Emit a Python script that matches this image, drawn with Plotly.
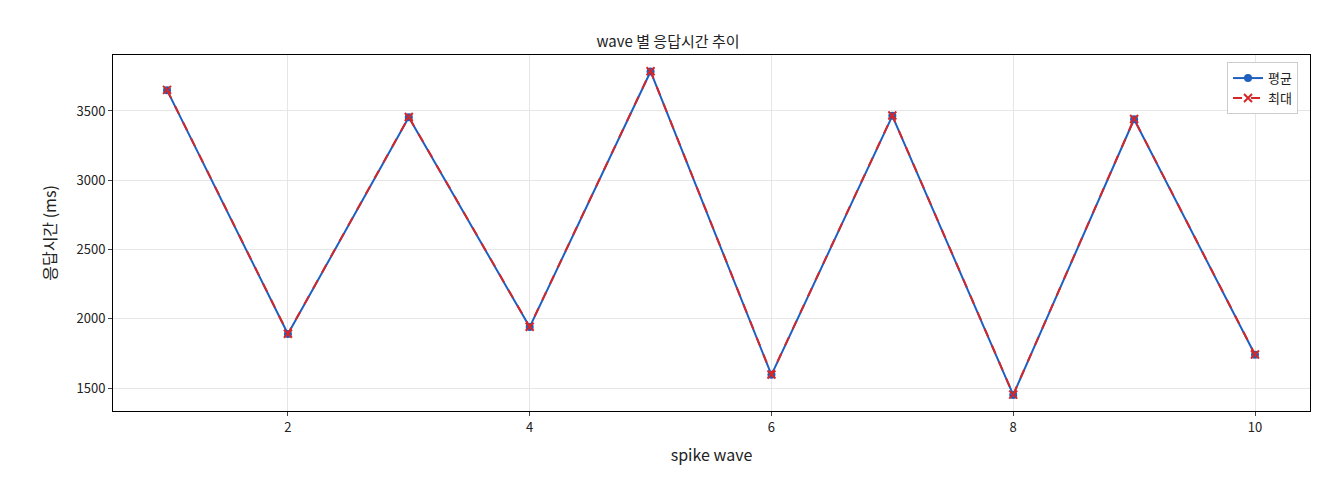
import plotly.graph_objects as go

waves = [1, 2, 3, 4, 5, 6, 7, 8, 9, 10]
avg_ms = [3650, 1890, 3455, 1940, 3785, 1595, 3465, 1450, 3440, 1740]
max_ms = [3652, 1892, 3457, 1942, 3787, 1597, 3467, 1452, 3442, 1742]

fig = go.Figure()
fig.add_trace(go.Scatter(x=waves, y=avg_ms, name="평균", mode="lines+markers",
                         line=dict(color="#1f5fbf", width=2), marker=dict(size=8, color="#1f5fbf")))
fig.add_trace(go.Scatter(x=waves, y=max_ms, name="최대", mode="lines+markers",
                         line=dict(color="#d62728", width=2, dash="dash"),
                         marker=dict(symbol="x-thin", size=8, line=dict(width=2, color="#d62728"), color="#d62728")))

axis = dict(showline=True, linecolor="black", mirror=True, ticks="outside", ticklen=4,
            gridcolor="#e6e6e6", zeroline=False, automargin=False,
            tickfont=dict(size=13, color="#222"), title_font=dict(size=13))
fig.update_layout(
    width=1320, height=480, plot_bgcolor="white", paper_bgcolor="white",
    font=dict(family="Noto Sans CJK KR", size=13, color="#222"),
    title=dict(text="wave 별 응답시간 추이", x=0.5, xanchor="center", y=0.94, font=dict(size=15)),
    margin=dict(l=105, r=18, t=47, b=77, autoexpand=False),
    xaxis=dict(axis, range=[0.553, 10.455], tickvals=[2, 4, 6, 8, 10], title="spike wave"),
    yaxis=dict(axis, range=[1334, 3904], tickvals=[1500, 2000, 2500, 3000, 3500], title="응답시간 (ms)"),
    legend=dict(x=0.99, y=0.98, xanchor="right", yanchor="top", bgcolor="white",
                bordercolor="#ccc", borderwidth=1),
)
fig.write_html("out.html")
